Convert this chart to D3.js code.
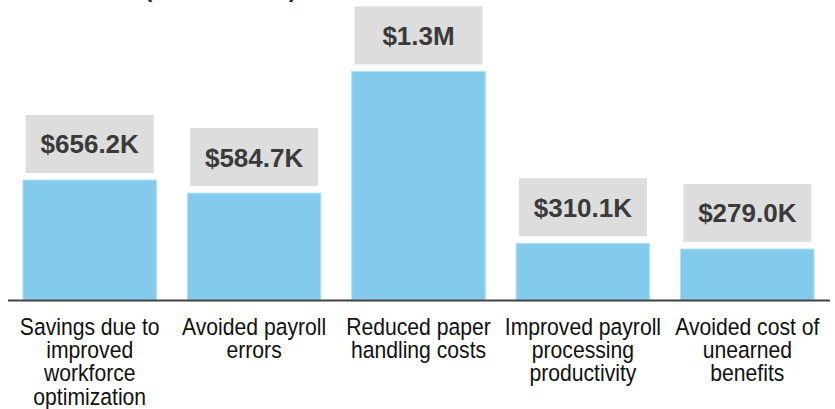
<!DOCTYPE html>
<html>
<head>
<meta charset="utf-8">
<script src="https://cdn.jsdelivr.net/npm/d3@7"></script>
<style>
  html, body { margin: 0; padding: 0; background: #ffffff; }
  svg { display: block; }
</style>
</head>
<body>
<svg id="chart" width="835" height="409"></svg>
<script>
// ---- data ----
const titleText = "Benefits (in thousands)";
const categories = [
  ["Savings due to", "improved", "workforce", "optimization"],
  ["Avoided payroll", "errors"],
  ["Reduced paper", "handling costs"],
  ["Improved payroll", "processing", "productivity"],
  ["Avoided cost of", "unearned", "benefits"]
];
const values = [656.2, 584.7, 1250, 310.1, 279.0];   // in $K
const valueLabels = ["$656.2K", "$584.7K", "$1.3M", "$310.1K", "$279.0K"];
const yDomain = [0, 1300];

// ---- layout ----
const baseY = 300;
const svg = d3.select("#chart");

const keys = categories.map((c, i) => i);
const x = d3.scaleBand()
  .domain(keys)
  .range([7.5, 829.5])
  .paddingInner(0.1875)
  .paddingOuter(0.09375);

const y = d3.scaleLinear()
  .domain(yDomain)
  .range([baseY, baseY - 1300 * 0.1829]);

// title (mostly clipped above the frame, as in the reference)
svg.append("text")
  .attr("x", 52)
  .attr("y", -3)
  .attr("font-family", "Liberation Sans, Arial, sans-serif")
  .attr("font-weight", "bold")
  .attr("font-size", 22)
  .attr("fill", "#222")
  .text(titleText);

// bars
svg.append("g").selectAll("rect")
  .data(values)
  .join("rect")
  .attr("x", (d, i) => x(i))
  .attr("y", d => y(d))
  .attr("width", x.bandwidth())
  .attr("height", d => baseY - y(d))
  .attr("fill", "#82CBEC")
  .attr("stroke", "#b9e1f4")
  .attr("stroke-width", 1);

// value label boxes
const boxW = 128, boxH = 58, gap = 7;
const lbl = svg.append("g").selectAll("g")
  .data(values)
  .join("g")
  .attr("transform", (d, i) => `translate(${x(i) + x.bandwidth() / 2},${y(d) - gap - boxH})`);

lbl.append("rect")
  .attr("x", -boxW / 2)
  .attr("y", 0)
  .attr("width", boxW)
  .attr("height", boxH)
  .attr("fill", "#DDDDDD");

lbl.append("text")
  .attr("x", 0)
  .attr("y", boxH / 2 + 9.5)
  .attr("text-anchor", "middle")
  .attr("font-family", "Liberation Sans, Arial, sans-serif")
  .attr("font-weight", "bold")
  .attr("font-size", 26)
  .attr("fill", "#3a3a3a")
  .text((d, i) => valueLabels[i]);

// axis
const axis = svg.append("g")
  .attr("transform", `translate(0,${baseY})`)
  .call(d3.axisBottom(x).tickSize(0).tickSizeOuter(0).tickFormat(""));
axis.select(".domain")
  .attr("stroke", "#404040")
  .attr("stroke-width", 2);

// category labels
const cat = svg.append("g").selectAll("g")
  .data(categories)
  .join("g")
  .attr("transform", (d, i) => `translate(${x(i) + x.bandwidth() / 2},335) scale(0.9,1)`);

cat.append("text")
  .attr("text-anchor", "middle")
  .attr("font-family", "Liberation Sans, Arial, sans-serif")
  .attr("font-size", 23.5)
  .attr("fill", "#111")
  .selectAll("tspan")
  .data(d => d)
  .join("tspan")
  .attr("x", 0)
  .attr("y", (d, j) => j * 23.2)
  .text(d => d);
</script>
</body>
</html>
